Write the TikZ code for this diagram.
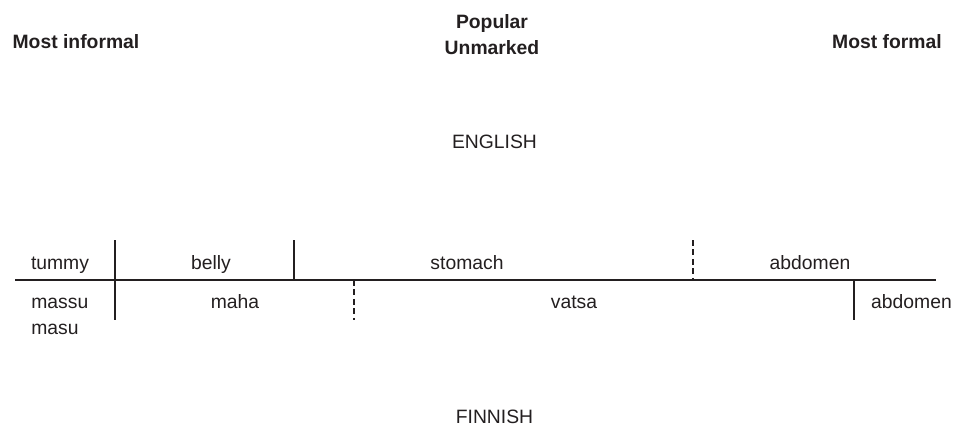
\documentclass[tikz,border=0pt]{standalone}
\usepackage{fontspec}
\setmainfont{Liberation Sans}
\definecolor{ink}{HTML}{231F20}
\begin{document}
\begin{tikzpicture}[
  every node/.style={inner sep=0pt,text=ink,font=\fontsize{11}{13}\selectfont},
  head/.style={font=\fontsize{11}{13}\selectfont\bfseries,anchor=base},
  word/.style={anchor=base},
  sep/.style={draw=ink,line width=0.6pt},
  dsep/.style={draw=ink,line width=1.2pt,dash pattern=on 3.4pt off 2pt}]
\useasboundingbox (0,0) rectangle (19.12,8.54);

\node[head] (informal) at (1.52,7.56) {Most informal};
\node[head] (popular)  at (9.84,7.96) {Popular};
\node[head] (unmarked) at (9.84,7.44) {Unmarked};
\node[head] (formal)   at (17.74,7.56) {Most formal};

\node[word] (english) at (9.89,5.58) {ENGLISH};
\node[word] (finnish) at (9.89,0.08) {FINNISH};

% the scale and the boundaries
\draw[sep] (0.3,2.94) -- (18.72,2.94);
\draw[sep] (2.3,3.74) -- (2.3,2.14);
\draw[sep] (5.88,3.74) -- (5.88,2.94);
\draw[dsep] (13.86,3.74) -- (13.86,2.94);
\draw[dsep] (7.08,2.94) -- (7.08,2.14);
\draw[sep] (17.08,2.94) -- (17.08,2.14);

% english words above the line
\node[word] (tummy)   at (1.2,3.15)  {tummy};
\node[word] (belly)   at (4.22,3.15) {belly};
\node[word] (stomach) at (9.34,3.15) {stomach};
\node[word] (abdEn)   at (16.2,3.15) {abdomen};

% finnish words below it
\node[word,anchor=base west] (massu) at (0.62,2.38) {massu};
\node[word,anchor=base west] (masu)  at (0.62,1.86) {masu};
\node[word] (maha)    at (4.7,2.38)   {maha};
\node[word] (vatsa)   at (11.48,2.38) {vatsa};
\node[word] (abdFi)   at (18.23,2.38) {abdomen};
\end{tikzpicture}
\end{document}
